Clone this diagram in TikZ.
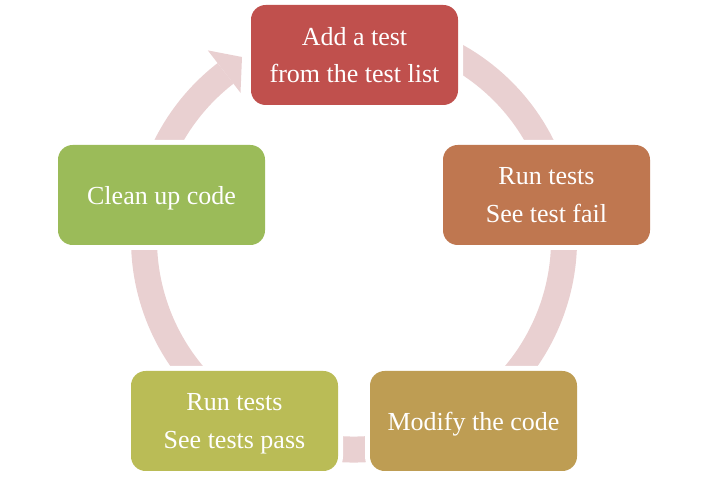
\documentclass[tikz,border=0pt]{standalone}
\usepackage{fontspec}
\setmainfont{Liberation Serif}
\definecolor{ringpink}{RGB}{233,208,209}
\definecolor{boxred}{RGB}{192,80,77}
\definecolor{boxorange}{RGB}{191,119,80}
\definecolor{boxgold}{RGB}{190,157,83}
\definecolor{boxolive}{RGB}{186,188,86}
\definecolor{boxgreen}{RGB}{155,187,89}
\tikzset{
  stagebox/.style={rounded corners=11pt, minimum width=155.25pt, minimum height=75pt,
    inner sep=0pt, align=center, text=white, text depth=0pt,
    font=\fontsize{19.5}{28}\selectfont,
    preaction={draw=white, line width=7.5pt}},
}
\begin{document}
\begin{tikzpicture}[x=0.75pt,y=0.75pt]
	\useasboundingbox (0,0) rectangle (709,477);
	
	\coordinate (centre) at (354,237.5);
	\draw[ringpink, line width=19.5pt] ([shift={(105:210)}]centre) arc[start angle=105, end angle=-232.3, radius=210];
	\fill[ringpink] (207.8,426.6) -- (242,420) -- (240.5,384.2) -- cycle;
	
	\node[stagebox, fill=boxred] (addtest) at (354.5,422) {Add a test\\from the test list};
	\node[stagebox, fill=boxorange] (runfail) at (546.5,282) {Run tests\\See test fail};
	\node[stagebox, fill=boxgold] (modify) at (473.5,56) {Modify the code};
	\node[stagebox, fill=boxolive] (runpass) at (234.5,56) {Run tests\\See tests pass};
	\node[stagebox, fill=boxgreen] (cleanup) at (161.5,282) {Clean up code};
\end{tikzpicture}
\end{document}
